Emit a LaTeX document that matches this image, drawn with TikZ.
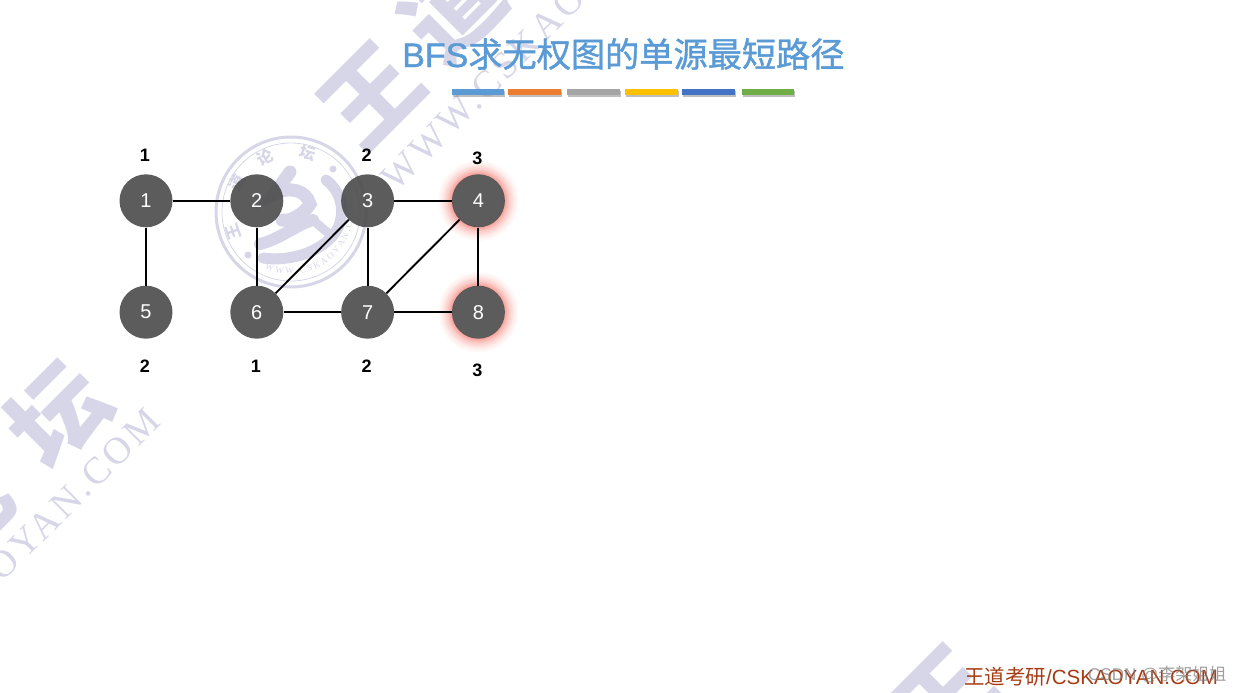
\documentclass[tikz,border=0pt]{standalone}
\usepackage{fontspec}
\setmainfont{Liberation Sans}
\newfontfamily\cjk{Noto Sans CJK SC}
\newfontfamily\cjktitle[FakeBold=1.2]{Noto Sans CJK SC}
\newfontfamily\titlefont[FakeBold=1.2]{Liberation Sans}
\newfontfamily\wmserif[LetterSpace=9]{Liberation Serif}
\usetikzlibrary{positioning,backgrounds,decorations.text}
\definecolor{wmark}{HTML}{D6D6E8}
\definecolor{vertexfill}{HTML}{4E4E4E}
\definecolor{titleblue}{HTML}{5B9BD5}
\definecolor{footred}{HTML}{A63A12}
\definecolor{glowred}{HTML}{F04030}
\tikzset{
x=1pt,
y=-1pt,
node distance=110.8pt,
vertex/.style={circle, fill=vertexfill, fill opacity=.92, text opacity=1, minimum size=53pt, inner sep=0pt, text=white, font=\fontsize{20}{20}\selectfont},
dist/.style={font=\fontsize{18}{18}\selectfont\bfseries, inner sep=0pt, xshift=-1pt},
edge/.style={draw=black, line width=1.9pt},
wmchar/.style={text=wmark, inner sep=0pt, font=\cjk\bfseries\fontsize{96}{96}\selectfont},
wmline/.style={text=wmark, inner sep=0pt, rotate=45, font=\wmserif\fontsize{38}{38}\selectfont},
ringchar/.style={text=wmark, inner sep=0pt, font=\cjk\bfseries\fontsize{16}{16}\selectfont},
blob/.style={draw=wmark, line cap=round},
}
\begin{document}
\begin{tikzpicture}
    \useasboundingbox (0,0) rectangle (1240,693);
    \clip (0,0) rectangle (1240,693);

    \node[vertex] (n1) at (146,200.8) {1};
    \node[vertex,right of=n1] (n2) {2};
    \node[vertex,right of=n2] (n3) {3};
    \node[vertex,right of=n3] (n4) {4};
    \node[vertex,below of=n1,node distance=111.4pt] (n5) {5};
    \node[vertex,right of=n5] (n6) {6};
    \node[vertex,right of=n6] (n7) {7};
    \node[vertex,right of=n7] (n8) {8};

    \draw[edge] (n1) -- (n2);
    \draw[edge] (n1) -- (n5);
    \draw[edge] (n2) -- (n6);
    \draw[edge] (n3) -- (n4);
    \draw[edge] (n3) -- (n6);
    \draw[edge] (n3) -- (n7);
    \draw[edge] (n4) -- (n7);
    \draw[edge] (n4) -- (n8);
    \draw[edge] (n6) -- (n7);
    \draw[edge] (n7) -- (n8);

    \node[dist,above of=n1,node distance=45.5pt] (d1) {1};
    \node[dist,above of=n3,node distance=45.5pt] (d3) {2};
    \node[dist,above of=n4,node distance=42pt] (d4) {3};
    \node[dist,below of=n5,node distance=54.5pt] (d5) {2};
    \node[dist,below of=n6,node distance=54.5pt] (d6) {1};
    \node[dist,below of=n7,node distance=54.5pt] (d7) {2};
    \node[dist,below of=n8,node distance=58pt] (d8) {3};

    \begin{pgfonlayer}{background}
        \node[wmchar,rotate=45] (wm1) at (371,95) {王};
        \node[wmchar,rotate=45] (wm2) at (452,8) {道};
        \node[wmchar,rotate=45] (wm3) at (58,414) {坛};
        \node[wmchar,rotate=45] (wm4) at (-38,510) {论};
        \node[wmchar,rotate=45] (wm5) at (944,698) {王};
        \node[wmline] (wmtext1) at (553,18) {WWW.CSKAOYAN.COM};
        \node[wmline] (wmtext2) at (-12,580) {WWW.CSKAOYAN.COM};

        \draw[wmark,line width=3pt] (291,212) circle (75);
        \draw[wmark,line width=.8pt] (291,212) circle (69);
        \node[ringchar,rotate=109] (ring1) at (233,232) {王};
        \node[ringchar,rotate=62] (ring2) at (237,183) {道};
        \node[ringchar,rotate=26] (ring3) at (265,158) {论};
        \node[ringchar,rotate=-16] (ring4) at (308,153) {坛};
        \fill[wmark] (333,169) circle (3.5) (248,255) circle (3.5);
        \begin{scope}[shift={(291,212)},y=1pt]
            \path[decorate,decoration={text along path,text align={fit to path},
                text={|\fontsize{9}{9}\wmserif\color{wmark}|WWW.CSKAOYAN.COM}}]
                (245:62) arc[start angle=245,end angle=368,radius=62];
        \end{scope}
        \draw[blob,line width=12pt] (260,244) .. controls (278,240) and (298,224) .. (313,220);
        \draw[blob,line width=9pt] (313,220) .. controls (320,226) and (326,232) .. (333,236);
        \draw[blob,line width=11pt] (263,258) .. controls (290,262) and (325,252) .. (338,228) .. controls (346,210) and (340,190) .. (326,180);
        \draw[blob,line width=13pt] (290,172) -- (274,194) .. controls (290,186) and (306,190) .. (310,204) .. controls (304,214) and (290,222) .. (282,220);

        \foreach \gr in {27,27.5,28,28.5,29,29.5,30,30.5,31,32,33,34,35,36,38,40}{
            \fill[glowred,opacity=.04,even odd rule] (n4) circle (\gr) (n4) circle (26);
            \fill[glowred,opacity=.04,even odd rule] (n8) circle (\gr) (n8) circle (26);
        }
    \end{pgfonlayer}

    \node[text=titleblue, inner sep=0pt, anchor=base west, font=\titlefont\fontsize{34}{34}\selectfont] (title) at (402,67) {BFS{\cjktitle\fontsize{34.2}{34.2}\selectfont 求无权图的单源最短路径}};

    \foreach \xa/\xb/\barcolor in {452/504/5B9BD5,508/561/ED7D31,567/620/A5A5A5,625/678/FFC000,682/735/4472C4,742/794/70AD47}{
        \definecolor{barfill}{HTML}{\barcolor}
        \fill[gray,opacity=.5] (\xa+1,91) rectangle (\xb+1,97);
        \fill[barfill] (\xa,89) rectangle (\xb,95);
    }

    \node[text=footred, inner sep=0pt, anchor=base west, font=\fontsize{20.5}{20.5}\selectfont] (foot) at (964,684) {{\cjk 王道考研}/CSKAOYAN.COM};
    \node[text=gray, text opacity=.75, inner sep=0pt, anchor=base west, font=\fontsize{17}{17}\selectfont] (csdn) at (1088,680) {CSDN @{\cjk 李架姐姐}};
\end{tikzpicture}
\end{document}
